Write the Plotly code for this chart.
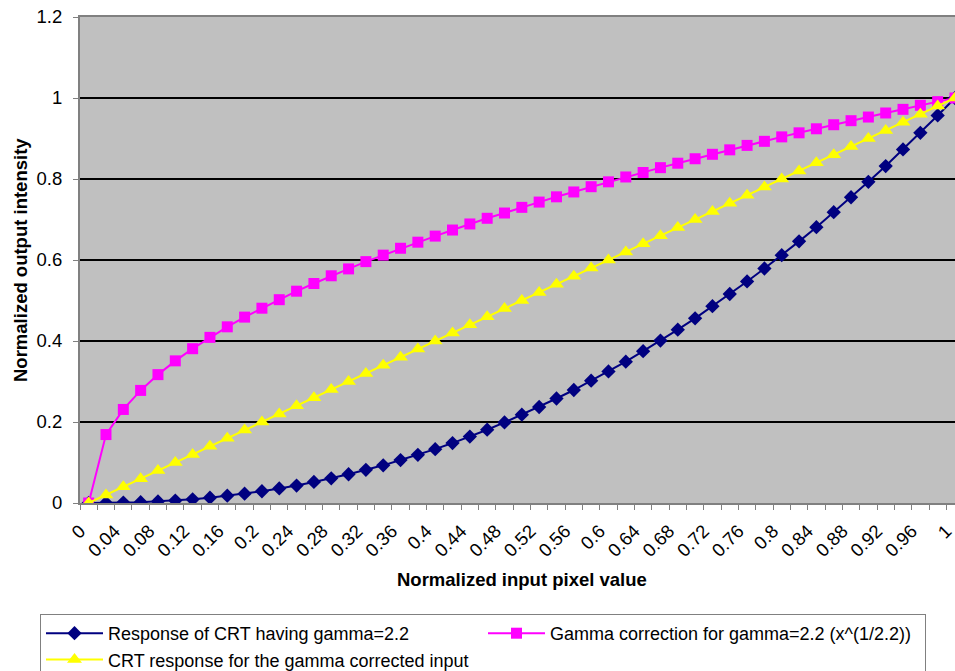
import plotly.graph_objects as go

# ---- data ----
input_values = [0, 0.02, 0.04, 0.06, 0.08, 0.10, 0.12, 0.14, 0.16, 0.18,
                0.20, 0.22, 0.24, 0.26, 0.28, 0.30, 0.32, 0.34, 0.36, 0.38,
                0.40, 0.42, 0.44, 0.46, 0.48, 0.50, 0.52, 0.54, 0.56, 0.58,
                0.60, 0.62, 0.64, 0.66, 0.68, 0.70, 0.72, 0.74, 0.76, 0.78,
                0.80, 0.82, 0.84, 0.86, 0.88, 0.90, 0.92, 0.94, 0.96, 0.98, 1.0]

crt_response = [0, 0.000, 0.001, 0.002, 0.004, 0.006, 0.009, 0.013, 0.018, 0.023,
                0.029, 0.036, 0.043, 0.052, 0.061, 0.071, 0.082, 0.093, 0.106, 0.119,
                0.133, 0.148, 0.164, 0.181, 0.199, 0.218, 0.237, 0.258, 0.279, 0.302,
                0.325, 0.349, 0.375, 0.401, 0.428, 0.456, 0.486, 0.516, 0.547, 0.579,
                0.612, 0.646, 0.681, 0.718, 0.755, 0.793, 0.832, 0.873, 0.914, 0.957, 1.0]

gamma_correction = [0, 0.169, 0.231, 0.278, 0.317, 0.351, 0.381, 0.409, 0.435, 0.459,
                    0.481, 0.502, 0.523, 0.542, 0.561, 0.578, 0.596, 0.612, 0.629, 0.644,
                    0.659, 0.674, 0.689, 0.703, 0.716, 0.730, 0.743, 0.756, 0.768, 0.781,
                    0.793, 0.805, 0.816, 0.828, 0.839, 0.850, 0.861, 0.872, 0.883, 0.893,
                    0.904, 0.914, 0.924, 0.934, 0.944, 0.953, 0.963, 0.972, 0.982, 0.991, 1.0]

corrected_response = [0, 0.02, 0.04, 0.06, 0.08, 0.10, 0.12, 0.14, 0.16, 0.18,
                      0.20, 0.22, 0.24, 0.26, 0.28, 0.30, 0.32, 0.34, 0.36, 0.38,
                      0.40, 0.42, 0.44, 0.46, 0.48, 0.50, 0.52, 0.54, 0.56, 0.58,
                      0.60, 0.62, 0.64, 0.66, 0.68, 0.70, 0.72, 0.74, 0.76, 0.78,
                      0.80, 0.82, 0.84, 0.86, 0.88, 0.90, 0.92, 0.94, 0.96, 0.98, 1.0]

x_tick_values = [0, 0.04, 0.08, 0.12, 0.16, 0.2, 0.24, 0.28, 0.32, 0.36, 0.4, 0.44, 0.48,
                 0.52, 0.56, 0.6, 0.64, 0.68, 0.72, 0.76, 0.8, 0.84, 0.88, 0.92, 0.96, 1.0]
x_tick_labels = ["0", "0.04", "0.08", "0.12", "0.16", "0.2", "0.24", "0.28", "0.32",
                 "0.36", "0.4", "0.44", "0.48", "0.52", "0.56", "0.6", "0.64", "0.68",
                 "0.72", "0.76", "0.8", "0.84", "0.88", "0.92", "0.96", "1"]

series_names = ["Response of CRT having gamma=2.2",
                "Gamma correction for gamma=2.2 (x^(1/2.2))",
                "CRT response for the gamma corrected input"]

FONT = "Arial, Liberation Sans, sans-serif"
FS = 18.5
LFS = 18
step = input_values[1] - input_values[0]
boundaries = [v - step / 2 for v in input_values]
# rotated labels sit so that their end touches the left boundary of the category
label_positions = [v - step / 2 for v in x_tick_values]

fig = go.Figure()
fig.add_trace(go.Scatter(
    x=input_values, y=crt_response, name=series_names[0], mode="lines+markers",
    line=dict(color="#000080", width=2),
    marker=dict(symbol="diamond", size=11, color="#000080")))
fig.add_trace(go.Scatter(
    x=input_values, y=gamma_correction, name=series_names[1], mode="lines+markers",
    line=dict(color="#FF00FF", width=2),
    marker=dict(symbol="square", size=11, color="#FF00FF")))
fig.add_trace(go.Scatter(
    x=input_values, y=corrected_response, name=series_names[2], mode="lines+markers",
    line=dict(color="#FFFF00", width=2),
    marker=dict(symbol="triangle-up", size=13, color="#FFFF00")))

L, T, W, H = 80, 17, 955, 671
PB = 503
plot_h = PB - T

fig.update_layout(
    width=W, height=H,
    margin=dict(l=L, r=0, t=T, b=H - PB, pad=0, autoexpand=False),
    paper_bgcolor="white", plot_bgcolor="#C0C0C0",
    font=dict(family=FONT, size=FS, color="black"),
    showlegend=True,
    legend=dict(
        orientation="h", x=(40 - L) / (W - L), y=(PB - 614) / plot_h,
        xanchor="left", yanchor="top",
        bordercolor="#808080", borderwidth=1, bgcolor="white",
        font=dict(family=FONT, size=LFS, color="black"),
        entrywidth=370, entrywidthmode="pixels", itemwidth=57,
        tracegroupgap=0, traceorder="normal"),
    xaxis=dict(
        range=[-step / 2, 1.0], showgrid=False, zeroline=False, automargin=False,
        showline=True, linecolor="#808080", linewidth=2, mirror=True,
        tickmode="array", tickvals=label_positions, ticktext=x_tick_labels,
        tickangle=-45, ticks="", tickfont=dict(size=FS, family=FONT),
        ticklabeloverflow="allow", ticklabelstandoff=8,
        minor=dict(tickmode="array", tickvals=boundaries, ticks="outside",
                   ticklen=5, tickcolor="#808080", showgrid=False)),
    yaxis=dict(
        range=[0, 1.2], dtick=0.2, tick0=0, showgrid=True, gridcolor="black",
        gridwidth=2, zeroline=False, showline=True, linecolor="#808080",
        linewidth=2, mirror=True, ticks="outside", ticklen=5, tickcolor="#808080",
        ticklabelstandoff=7,
        automargin=False, tickfont=dict(size=FS, family=FONT)),
    annotations=[
        dict(text="<b>Normalized input pixel value</b>", xref="paper", yref="paper",
             x=(522 - L) / (W - L), y=(PB - 579) / plot_h, xanchor="center",
             yanchor="middle", showarrow=False, font=dict(size=FS, family=FONT)),
        dict(text="<b>Normalized output intensity</b>", xref="paper", yref="paper",
             x=(20 - L) / (W - L), y=0.5, xanchor="center", yanchor="middle",
             textangle=-90, showarrow=False, font=dict(size=FS, family=FONT)),
    ],
)

fig.write_html("out.html", config={"displayModeBar": False},
               post_script="document.body.style.margin='0';document.body.style.overflow='hidden';")
